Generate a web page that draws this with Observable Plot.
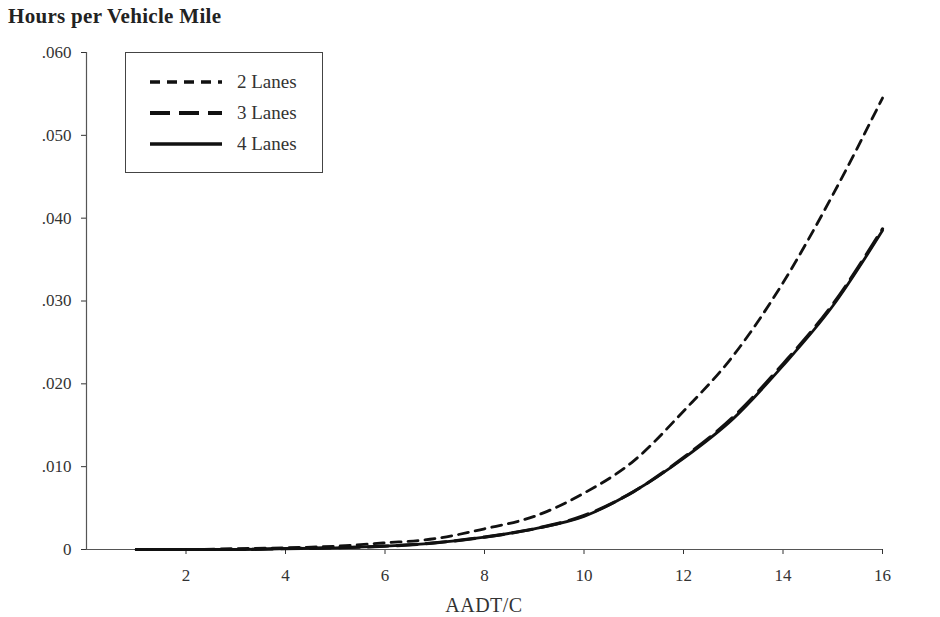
<!DOCTYPE html>
<html>
<head>
<meta charset="utf-8">
<script src="https://cdn.jsdelivr.net/npm/d3@7"></script>
<script src="https://cdn.jsdelivr.net/npm/@observablehq/plot@0.6"></script>
<style>
  html, body { margin: 0; padding: 0; background: #fff; }
  #wrap { position: relative; width: 940px; height: 617px; font-family: "Liberation Serif", "DejaVu Serif", serif; color: #222; }
  #title { position: absolute; left: 8px; top: 4px; font-size: 21px; font-weight: bold; letter-spacing: 0.3px; color: #222; }
  #chart { position: absolute; left: 0; top: 30px; }
  #xlabel { position: absolute; left: 384px; width: 200px; text-align: center; top: 594px; font-size: 20px; letter-spacing: 0.5px; color: #333; }
  #legend { position: absolute; left: 125px; top: 52px; width: 198px; height: 121px; border: 1.3px solid #444; box-sizing: border-box; background: #fff; }
  .row { position: absolute; left: 24px; height: 22px; display: flex; align-items: center; font-size: 19px; color: #333; }
  .row svg { margin-right: 15px; }
</style>
</head>
<body>
<div id="wrap">
  <div id="title">Hours per Vehicle Mile</div>
  <div id="chart"></div>
  <div id="xlabel">AADT/C</div>
  <div id="legend"></div>
</div>
<script>
const aadtc = [1, 2, 3, 4, 5, 6, 7, 8, 9, 10, 11, 12, 13, 14, 15, 16];
const lanes2 = [0.0000, 0.0000, 0.0001, 0.0002, 0.0004, 0.0008, 0.0013, 0.0025, 0.0040, 0.0068, 0.0107, 0.0167, 0.0234, 0.0322, 0.0428, 0.0545];
const lanes3 = [0.0000, 0.0000, 0.0000, 0.0001, 0.0002, 0.0004, 0.0008, 0.0015, 0.0025, 0.0041, 0.0070, 0.0111, 0.0160, 0.0224, 0.0296, 0.0387];
const lanes4 = [0.0000, 0.0000, 0.0000, 0.0001, 0.0002, 0.0004, 0.0008, 0.0015, 0.0025, 0.0040, 0.0070, 0.0110, 0.0158, 0.0222, 0.0294, 0.0385];
const seriesNames = ["2 Lanes", "3 Lanes", "4 Lanes"];
const xTicks = [2, 4, 6, 8, 10, 12, 14, 16];
const yTicks = [0, 0.01, 0.02, 0.03, 0.04, 0.05, 0.06];

const styles = {
  "2 Lanes": {dash: "10,7", width: 2.8},
  "3 Lanes": {dash: "20,9", width: 3.2},
  "4 Lanes": {dash: null, width: 2.8}
};
const seriesValues = {"2 Lanes": lanes2, "3 Lanes": lanes3, "4 Lanes": lanes4};
const rows = name => aadtc.map((x, i) => ({x, y: seriesValues[name][i]}));

const yFmt = d => d === 0 ? "0" : d3.format(".3f")(d).replace(/^0/, "");

const plot = Plot.plot({
  width: 940,
  height: 587,
  marginLeft: 86,
  marginRight: 58,
  marginTop: 22,
  marginBottom: 68,
  style: {fontFamily: "Liberation Serif, DejaVu Serif, serif", fontSize: "17px", color: "#333", background: "transparent"},
  x: {domain: [0, 16], ticks: xTicks, tickSize: 5, tickPadding: 14, label: null},
  y: {domain: [0, 0.06], ticks: yTicks, tickFormat: yFmt, tickSize: 5, tickPadding: 10, label: null},
  marks: [
    Plot.ruleX([0], {stroke: "#555", strokeWidth: 1.2}),
    Plot.ruleY([0], {stroke: "#555", strokeWidth: 1.2}),
    Plot.lineY(rows("4 Lanes"), {x: "x", y: "y", stroke: "#111", strokeWidth: styles["4 Lanes"].width, curve: "monotone-x"}),
    Plot.lineY(rows("3 Lanes"), {x: "x", y: "y", stroke: "#111", strokeWidth: styles["3 Lanes"].width, strokeDasharray: styles["3 Lanes"].dash, curve: "monotone-x"}),
    Plot.lineY(rows("2 Lanes"), {x: "x", y: "y", stroke: "#111", strokeWidth: styles["2 Lanes"].width, strokeDasharray: styles["2 Lanes"].dash, curve: "monotone-x"})
  ]
});
document.getElementById("chart").appendChild(plot);

const legend = document.getElementById("legend");
seriesNames.forEach((name, i) => {
  const row = document.createElement("div");
  row.className = "row";
  row.style.top = (18 + i * 31) + "px";
  const s = styles[name];
  row.innerHTML = `<svg width="72" height="10"><line x1="0" x2="72" y1="5" y2="5" stroke="#111" stroke-width="${s.width + 0.6}" ${s.dash ? `stroke-dasharray="${s.dash}"` : ""}/></svg><span>${name}</span>`;
  legend.appendChild(row);
});
</script>
</body>
</html>
